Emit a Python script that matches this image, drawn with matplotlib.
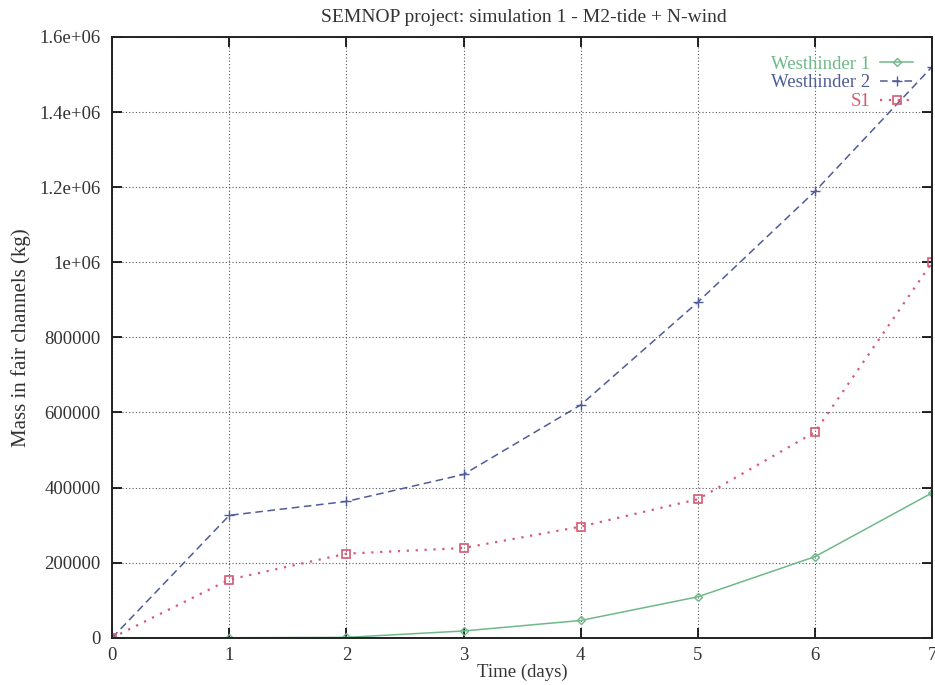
import numpy as np
import matplotlib
matplotlib.use('Agg')
import matplotlib.pyplot as plt

plt.rcParams['font.family'] = ['Liberation Serif', 'DejaVu Serif']

days = [0, 1, 2, 3, 4, 5, 6, 7]
westhinder1 = [0, 0, 1000, 18000, 46000, 109000, 216000, 386000]
westhinder2 = [0, 326000, 363000, 435000, 620000, 894000, 1189000, 1521000]
s1 = [0, 155000, 224000, 239000, 296000, 369000, 548000, 1000000]

yticks = [0, 200000, 400000, 600000, 800000, 1000000, 1200000, 1400000, 1600000]
ylabels = ['0', '200000', '400000', '600000', '800000', '1e+06', '1.2e+06', '1.4e+06', '1.6e+06']

c_green = '#6fb889'
c_blue = '#4f5c96'
c_red = '#d65a74'

fig = plt.figure(figsize=(9.35, 6.85), dpi=100)
ax = fig.add_axes([0.12, 0.069, 0.877, 0.877])

ax.plot(days, westhinder1, color=c_green, ls='-', lw=1.1, marker='D', ms=4,
        mfc='none', mec=c_green, label='Westhinder 1')
ax.plot(days, westhinder2, color=c_blue, ls=(0, (5, 3)), lw=1.1, marker='+', ms=7,
        mec=c_blue, label='Westhinder 2')
ax.plot(days, s1, color=c_red, ls=(0, (1, 3)), lw=1.6, marker='s', ms=6,
        mfc='none', mec=c_red, mew=1.2, label='S1')

ax.set_xlim(0, 7)
ax.set_ylim(0, 1600000)
ax.set_xticks(days)
ax.set_yticks(yticks)
ax.set_yticklabels(ylabels)
ax.tick_params(direction='in', top=True, right=True, length=7, width=1.2,
               labelsize=13.5, labelcolor='#333333')
ax.tick_params(axis='y', pad=8.5)
ax.tick_params(axis='x', pad=6.5)
ax.grid(True, ls=(0, (1, 2)), color='#555555', lw=0.8)
for sp in ax.spines.values():
    sp.set_linewidth(1.4)
    sp.set_color('#222222')

fig.text(0.5605, 1 - 17 / 685, 'SEMNOP project: simulation 1 - M2-tide + N-wind',
         fontsize=14, color='#333333', ha='center', va='center')
ax.set_xlabel('Time (days)', fontsize=13.5, color='#333333', labelpad=0)
ax.set_ylabel('Mass in fair channels (kg)', fontsize=15, color='#333333', labelpad=6)

leg = ax.legend(loc='upper right', markerfirst=False, frameon=False, fontsize=13.5,
                handlelength=1.8, borderaxespad=0.6, labelspacing=0.08,
                handletextpad=0.5)
for txt, col in zip(leg.get_texts(), [c_green, c_blue, c_red]):
    txt.set_color(col)
    txt.set_ha('right')

fig.savefig('out.png', dpi=100)
